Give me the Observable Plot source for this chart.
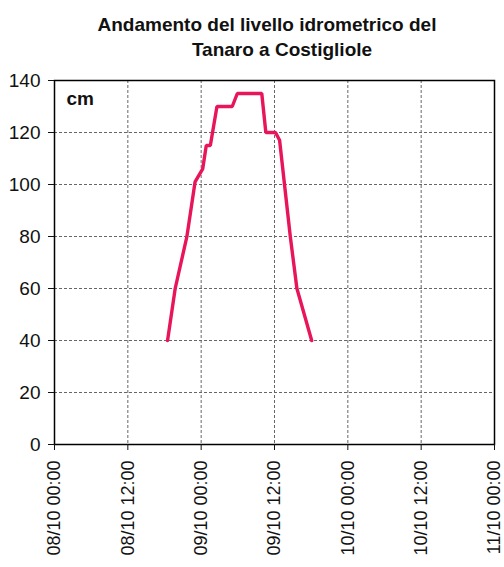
<!DOCTYPE html>
<html>
<head>
<meta charset="utf-8">
<script src="https://cdn.jsdelivr.net/npm/d3@7"></script>
<script src="https://cdn.jsdelivr.net/npm/@observablehq/plot@0.6"></script>
<style>
  body { margin: 0; background: #fff; font-family: "Liberation Sans", Arial, sans-serif; }
  #wrap { width: 504px; }
  .t { font-weight: bold; font-size: 19px; color: #111; white-space: nowrap; text-align: center; height: 25px; line-height: 25px; }
  #t1 { padding-left: 30px; padding-top: 12px; }
  #t2 { padding-left: 60px; height: 29px; }
  svg { display: block; }
</style>
</head>
<body>
<div id="wrap">
  <div class="t" id="t1">Andamento del livello idrometrico del</div>
  <div class="t" id="t2">Tanaro a Costigliole</div>
  <div id="chart"></div>
</div>
<script>
const title1 = "Andamento del livello idrometrico del";
const title2 = "Tanaro a Costigliole";
const unitLabel = "cm";
const times = ["08/10 18:30","08/10 19:45","08/10 21:40","08/10 23:00","09/10 00:15","09/10 00:50","09/10 01:30","09/10 02:35","09/10 05:05","09/10 05:55","09/10 09:55","09/10 10:35","09/10 12:10","09/10 12:50","09/10 14:35","09/10 15:40","09/10 18:05"];
const levels = [40,60,80,101,106,115,115,130,130,135,135,120,120,117,80,60,40];
const xTicks = ["08/10 00:00","08/10 12:00","09/10 00:00","09/10 12:00","10/10 00:00","10/10 12:00","11/10 00:00"];
const yTicks = [0,20,40,60,80,100,120,140];

const parse = d3.utcParse("%d/%m %H:%M");
const fmt = d3.utcFormat("%d/%m %H:%M");
const data = times.map((t, i) => ({date: parse(t), level: levels[i]}));
const tickDates = xTicks.map(parse);

const chart = Plot.plot({
  width: 504,
  height: 501,
  marginTop: 14,
  marginLeft: 54,
  marginRight: 10,
  marginBottom: 123,
  style: {fontFamily: "'Liberation Sans', Arial, sans-serif", fontSize: "18px", color: "#111", background: "#fff"},
  x: {type: "utc", domain: [tickDates[0], tickDates[tickDates.length - 1]], ticks: tickDates, tickFormat: fmt, label: null},
  y: {domain: [0, 140], ticks: yTicks, label: null},
  marks: [
    Plot.gridX(tickDates, {stroke: "#666", strokeOpacity: 1, strokeDasharray: "3,2"}),
    Plot.gridY(yTicks, {stroke: "#666", strokeOpacity: 1, strokeDasharray: "3,2"}),
    Plot.frame({stroke: "#000", strokeWidth: 1.5}),
    Plot.axisY(yTicks, {tickSize: 6, tickPadding: 8, fontSize: 19, tickFormat: d => String(d)}),
    Plot.axisX(tickDates, {tickSize: 6, tickPadding: 10, tickRotate: -90, fontSize: 18, tickFormat: fmt}),
    Plot.line(data, {x: "date", y: "level", stroke: "#e8155a", strokeWidth: 3.4, strokeLinejoin: "miter"}),
    Plot.text([unitLabel], {frameAnchor: "top-left", text: d => d, dx: 12, dy: 11, textAnchor: "start", lineAnchor: "top", fontWeight: "bold", fontSize: 19, fill: "#111"})
  ]
});
document.getElementById("chart").appendChild(chart);
</script>
</body>
</html>
